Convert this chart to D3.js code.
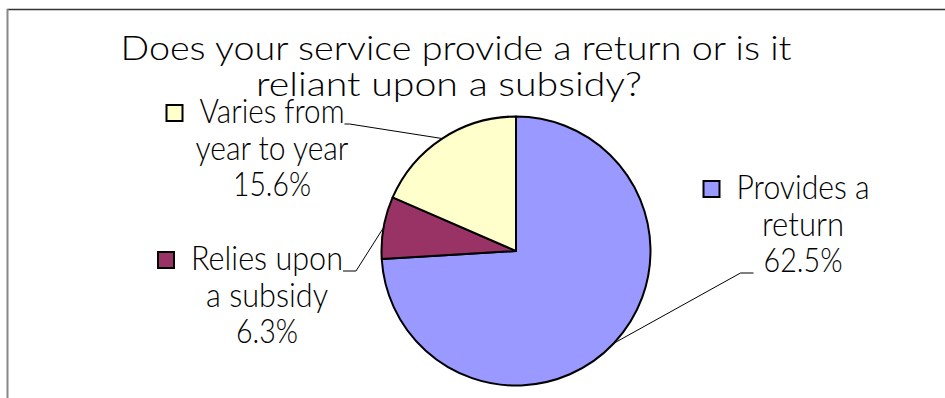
<!DOCTYPE html>
<html>
<head>
<meta charset="utf-8">
<script src="https://cdn.jsdelivr.net/npm/d3@7"></script>
<style>
  html, body { margin: 0; padding: 0; background: #fff; }
  svg { display: block; }
</style>
</head>
<body>
<svg id="chart" width="945" height="398"></svg>
<script>
// ---- data ----
const titleLines = ["Does your service provide a return or is it", "reliant upon a subsidy?"];
const categories = ["Provides a return", "Relies upon a subsidy", "Varies from year to year"];
const labelLines = [["Provides a", "return"], ["Relies upon", "a subsidy"], ["Varies from", "year to year"]];
const values = [62.5, 6.3, 15.6];
const colors = ["#9999FF", "#993366", "#FFFFCC"];

// ---- layout ----
const W = 945, H = 398;
const FONT = "Lato, 'Open Sans', 'DejaVu Sans', sans-serif";
const FS = 33;
const pieCx = 516, pieCy = 251, R = 134.5;
const lineGap = 36.5;
const titleLayout = [
  { cx: 456, y: 60, w: 671 },
  { cx: 449, y: 96, w: 386 }
];
// label block placement: centre x, first baseline, line widths, leader attachment
const labelLayout = [
  { cx: 803, y: 199, w: [133, 82, 79], attachLine: 2, side: "left", off: 23, run: 13 },
  { cx: 267, y: 270, w: [152, 122, 62], attachLine: 0, side: "right", off: 0, run: 13 },
  { cx: 272, y: 123, w: [145, 153, 78], attachLine: 0, side: "right", off: 0, run: 5 }
];

const svg = d3.select("#chart");
svg.append("rect").attr("width", W).attr("height", H).attr("fill", "#fff");

// frame edges
svg.append("line").attr("x1", 7).attr("x2", W).attr("y1", 9.5).attr("y2", 9.5)
  .attr("stroke", "#333").attr("stroke-width", 1.5);
svg.append("line").attr("x1", 7.5).attr("x2", 7.5).attr("y1", 9).attr("y2", H)
  .attr("stroke", "#888").attr("stroke-width", 2);

function textAt(x, y, s, width) {
  return svg.append("text")
    .attr("x", x).attr("y", y)
    .attr("font-family", FONT).attr("font-weight", 300)
    .attr("font-size", FS).attr("fill", "#000")
    .attr("text-anchor", "middle")
    .attr("textLength", width)
    .attr("lengthAdjust", "spacingAndGlyphs")
    .text(s);
}

// title
titleLines.forEach((s, i) => textAt(titleLayout[i].cx, titleLayout[i].y, s, titleLayout[i].w));

// pie
const pie = d3.pie().sort(null).value(d => d).startAngle(0).endAngle(2 * Math.PI);
const arcs = pie(values);
const arc = d3.arc().innerRadius(0).outerRadius(R);
const rim = d3.arc().innerRadius(R).outerRadius(R);

const g = svg.append("g").attr("transform", `translate(${pieCx},${pieCy})`);
g.selectAll("path.slice").data(arcs).join("path")
  .attr("class", "slice")
  .attr("d", arc)
  .attr("fill", (d, i) => colors[i])
  .attr("stroke", "#000")
  .attr("stroke-width", 2)
  .attr("stroke-linejoin", "round");

// labels with legend keys and leader lines
const pct = d3.format(".1f");
arcs.forEach((a, i) => {
  const L = labelLayout[i];
  const lines = labelLines[i].concat([pct(values[i]) + "%"]);
  lines.forEach((s, k) => textAt(L.cx, L.y + k * lineGap, s, L.w[k]));

  // legend key left of first line
  const firstLeft = L.cx - L.w[0] / 2;
  svg.append("rect")
    .attr("x", firstLeft - 16 - 17).attr("y", L.y - 18)
    .attr("width", 16).attr("height", 16)
    .attr("fill", colors[i]).attr("stroke", "#000").attr("stroke-width", 2);

  // leader line from slice rim to label
  const [px, py] = rim.centroid(a);
  const ax = pieCx + px, ay = pieCy + py;
  const by = L.y + L.attachLine * lineGap + 1;
  const w = L.w[L.attachLine];
  let pts;
  if (L.side === "left") {
    const e = L.cx - w / 2 - L.off;
    pts = [[ax, ay], [e, by], [e + L.run, by]];
  } else {
    const e = L.cx + w / 2 + L.off;
    pts = [[ax, ay], [e + L.run, by], [e, by]];
  }
  svg.append("path")
    .attr("d", d3.line()(pts))
    .attr("fill", "none").attr("stroke", "#000").attr("stroke-width", 1);
});
</script>
</body>
</html>
